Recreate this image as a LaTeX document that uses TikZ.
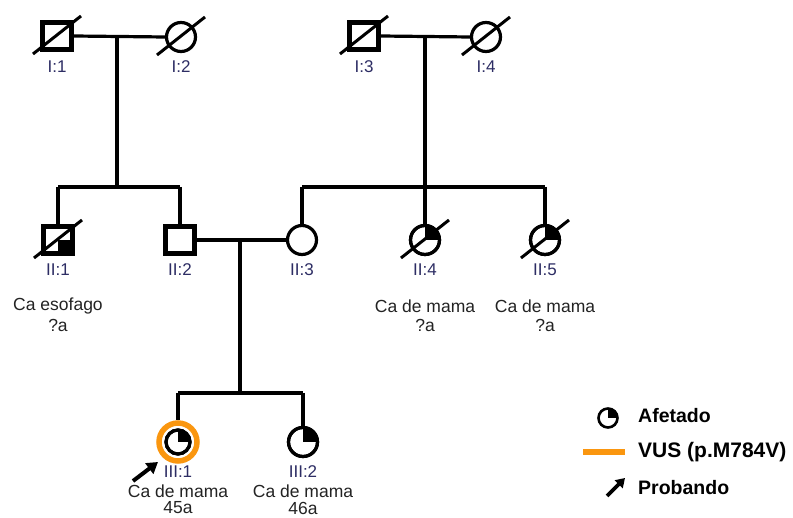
\documentclass[tikz,border=0pt]{standalone}
\usepackage{fontspec}
\setmainfont{Liberation Sans}
\usetikzlibrary{arrows.meta,calc}
\definecolor{idcol}{RGB}{45,45,100}
\definecolor{txtcol}{RGB}{35,35,35}
\definecolor{vusorange}{RGB}{250,150,15}
\tikzset{
  male/.style={draw, rectangle, line width=4.4pt, minimum width=29pt, minimum height=27pt, inner sep=0pt, fill=white},
  female/.style={draw, circle, line width=3.2pt, minimum size=29pt, inner sep=0pt, fill=white},
  rel/.style={line width=3.2pt},
  idlab/.style={text=idcol, font=\fontsize{17}{17}\selectfont, inner sep=0pt},
  info/.style={text=txtcol, font=\fontsize{17.5}{17.5}\selectfont, inner sep=0pt, align=center},
  leg/.style={text=black, font=\bfseries\fontsize{19.5}{19.5}\selectfont, inner sep=0pt, anchor=west},
  arr/.style={line width=4pt, -{Triangle[length=11pt,width=13pt]}},
  slash/.style={line width=3pt},
}
\begin{document}
\begin{tikzpicture}[x=1pt,y=-1pt]
\useasboundingbox (0,0) rectangle (793,518);
\fill[white] (0,0) rectangle (793,518);

% ---------- Generation I ----------
\node[male] (I1) at (57,36) {};
\node[female] (I2) at (181,37) {};
\node[male] (I3) at (364,36) {};
\node[female] (I4) at (486,37) {};
\coordinate (m1) at (117,36);
\coordinate (m2) at (425,36);
\draw[rel] (I1.east) -- (I2.west);
\draw[rel] (I3.east) -- (I4.west);

% ---------- Generation II ----------
\node[male] (II1) at (58,240) {};
\node[male] (II2) at (180,240) {};
\node[female] (II3) at (302,240) {};
\node[female] (II4) at (425,240) {};
\node[female] (II5) at (545,240) {};
\coordinate (s1) at (117,187);
\coordinate (s1l) at (58,187);
\coordinate (s1r) at (180,187);
\coordinate (s2l) at (302,187);
\coordinate (s2r) at (545,187);
\coordinate (m3) at (240,240);
\coordinate (s3) at (240,393);
\coordinate (s3l) at (178,393);
\coordinate (s3r) at (303,393);

\draw[rel] (m1) -- (s1);
\draw[rel] (s1l) -- (s1r);
\draw[rel] (s1l) -- (II1.north);
\draw[rel] (s1r) -- (II2.north);
\draw[line width=4.2pt] (m2) -- (II4.north);
\draw[rel] (s2l) -- (s2r);
\draw[rel] (s2l) -- (II3.north);
\draw[rel] (s2r) -- (II5.north);
\draw[rel] (II2.east) -- (II3.west);
\draw[rel] (m3) -- (s3);
\draw[rel] (s3l) -- (s3r);

% ---------- Generation III ----------
\node[draw=vusorange, circle, line width=5.5pt, minimum size=38pt, inner sep=0pt] (ring) at (178,442) {};
\node[female, minimum size=24pt] (III1) at (178,442) {};
\node[female] (III2) at (303,442) {};
\draw[rel] (s3l) -- (ring.north);
\draw[rel] (s3r) -- (III2.north);

% ---------- affected quadrants ----------
\foreach \n/\r in {II4/14.5, II5/14.5, III1/12, III2/14.5}{
  \begin{scope}
    \clip (\n.center) circle (\r);
    \fill (\n.center) rectangle ($(\n.center)+(\r,-\r)$);
  \end{scope}
  \node[draw, circle, line width=3.2pt, minimum size=2*\r pt, inner sep=0pt] at (\n.center) {};
}
\fill ($(II1.center)$) rectangle ($(II1.center)+(15,14)$);

% ---------- deceased slashes ----------
\foreach \n in {I1,I2,I3,I4,II1,II4,II5}{
  \draw[slash] ($(\n.center)+(-24,18)$) -- ($(\n.center)+(24,-20)$);
}

% ---------- labels ----------
\node[idlab] (lI1) at (57,67) {I:1};
\node[idlab] (lI2) at (181,67) {I:2};
\node[idlab] (lI3) at (364,67) {I:3};
\node[idlab] (lI4) at (486,67) {I:4};
\node[idlab] (lII1) at (58,270) {II:1};
\node[idlab] (lII2) at (180,270) {II:2};
\node[idlab] (lII3) at (302,270) {II:3};
\node[idlab] (lII4) at (425,270) {II:4};
\node[idlab] (lII5) at (545,270) {II:5};
\node[idlab] (lIII1) at (178,472) {III:1};
\node[idlab] (lIII2) at (303,472) {III:2};

\node[info] (t1) at (58,306) {Ca esofago};
\node[info] (t1b) at (58,325) {?a};
\node[info] (t4) at (425,306) {Ca de mama};
\node[info] (t4b) at (425,325) {?a};
\node[info] (t5) at (545,306) {Ca de mama};
\node[info] (t5b) at (545,325) {?a};
\node[info] (t6) at (178,491) {Ca de mama};
\node[info] (t6b) at (178,508) {45a};
\node[info] (t7) at (303,491) {Ca de mama};
\node[info] (t7b) at (303,508) {46a};

% proband arrow
\coordinate (pa0) at (133,481);
\coordinate (pa1) at (158,462);
\draw[arr] (pa0) -- (pa1);

% ---------- legend ----------
\node[draw, circle, line width=2.6pt, minimum size=19pt, inner sep=0pt] (Lc) at (608,418) {};
\begin{scope}
  \clip (Lc.center) circle (9.5);
  \fill (Lc.center) rectangle ($(Lc.center)+(9.5,-9.5)$);
\end{scope}
\node[leg] (La) at (638,416) {Afetado};
\coordinate (Lo0) at (583,452);
\coordinate (Lo1) at (625,452);
\draw[vusorange, line width=6.5pt] (Lo0) -- (Lo1);
\node[leg, font=\fontsize{21}{21}\selectfont\bfseries] (Lv) at (638,452) {VUS (p.M784V)};
\coordinate (Lp0) at (607,496);
\coordinate (Lp1) at (625,478);
\draw[arr, line width=3.6pt, -{Triangle[length=9pt,width=11pt]}] (Lp0) -- (Lp1);
\node[leg] (Lp) at (638,488) {Probando};
\end{tikzpicture}
\end{document}
